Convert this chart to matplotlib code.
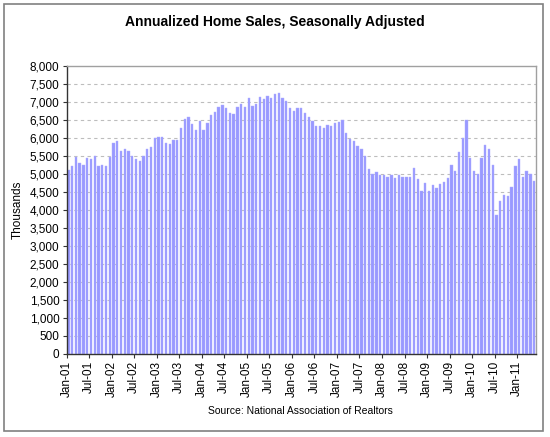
import matplotlib
matplotlib.use("Agg")
import matplotlib.pyplot as plt
from matplotlib.patches import Rectangle
import numpy as np

plt.rcParams['font.family'] = ['Liberation Sans', 'DejaVu Sans']

sales = [5120, 5231, 5463, 5306, 5250, 5435, 5426, 5491, 5231, 5259, 5231, 5481,
         5861, 5917, 5639, 5685, 5639, 5500, 5417, 5361, 5500, 5685, 5741, 5991,
         6028, 6028, 5861, 5833, 5935, 5935, 6278, 6537, 6583, 6389, 6231, 6481,
         6231, 6407, 6648, 6722, 6852, 6926, 6833, 6700, 6676, 6852, 6954, 6870,
         7102, 6880, 6954, 7130, 7074, 7176, 7120, 7222, 7250, 7102, 7028, 6833,
         6741, 6833, 6833, 6704, 6583, 6481, 6333, 6333, 6278, 6352, 6333, 6407,
         6454, 6509, 6130, 5981, 5907, 5787, 5694, 5491, 5148, 5009, 5056, 4963,
         4963, 4917, 4963, 4898, 4963, 4917, 4917, 4917, 5167, 4870, 4537, 4741,
         4537, 4694, 4620, 4722, 4769, 4898, 5241, 5093, 5620, 5991, 6500, 5435,
         5093, 5009, 5435, 5806, 5685, 5241, 3870, 4241, 4426, 4398, 4648, 5213,
         5417, 4917, 5093, 5009, 4815]

tick_labels = ['Jan-01', 'Jul-01', 'Jan-02', 'Jul-02', 'Jan-03', 'Jul-03', 'Jan-04',
               'Jul-04', 'Jan-05', 'Jul-05', 'Jan-06', 'Jul-06', 'Jan-07', 'Jul-07',
               'Jan-08', 'Jul-08', 'Jan-09', 'Jul-09', 'Jan-10', 'Jul-10', 'Jan-11']

W, H = 550, 437
fig = plt.figure(figsize=(W / 100, H / 100), dpi=100)
fig.patch.set_facecolor('white')

# outer chart border
fig.patches.append(Rectangle((4 / W, 6 / H), (543 - 4) / W, (433 - 6) / H,
                             transform=fig.transFigure, fill=False,
                             edgecolor='#808080', linewidth=1.2))

left, right, top, bottom = 66.5, 536, 66, 354
ax = fig.add_axes([left / W, 1 - bottom / H, (right - left) / W, (bottom - top) / H])

x = np.arange(len(sales))
ax.bar(x, sales, width=0.62, color='#9999ff', edgecolor='#b0b0ff', linewidth=0.3, zorder=2)

ax.set_xlim(-0.5, len(sales) - 0.5)
ax.set_ylim(0, 8000)

yt = np.arange(0, 8001, 500)
ax.set_yticks(yt)
ax.set_yticklabels([f'{v:,}' for v in yt], fontsize=8.5)
for v in yt[1:-1]:
    ax.axhline(v, color='#bdbdbd', linestyle=(0, (3, 3)), linewidth=0.8, zorder=1)

xt = np.arange(0, len(sales), 6) - 0.5
ax.set_xticks(xt)
ax.set_xticklabels(tick_labels, rotation=90, fontsize=8.5)

ax.tick_params(axis='both', direction='out', length=3, width=0.8, color='#333333', pad=2)
for side in ['left', 'bottom']:
    ax.spines[side].set_color('#333333')
    ax.spines[side].set_linewidth(1.0)
for side in ['top', 'right']:
    ax.spines[side].set_color('#a0a0a0')
    ax.spines[side].set_linewidth(1.0)

ax.set_ylabel('Thousands', fontsize=8.5, labelpad=4)

fig.text(275 / W, 1 - 22 / H, 'Annualized Home Sales, Seasonally Adjusted',
         ha='center', va='center', fontsize=10, fontweight='bold')
fig.text(300 / W, 1 - 411 / H, 'Source: National Association of Realtors',
         ha='center', va='center', fontsize=7.5)

fig.savefig('out.png', dpi=100, facecolor='white')
